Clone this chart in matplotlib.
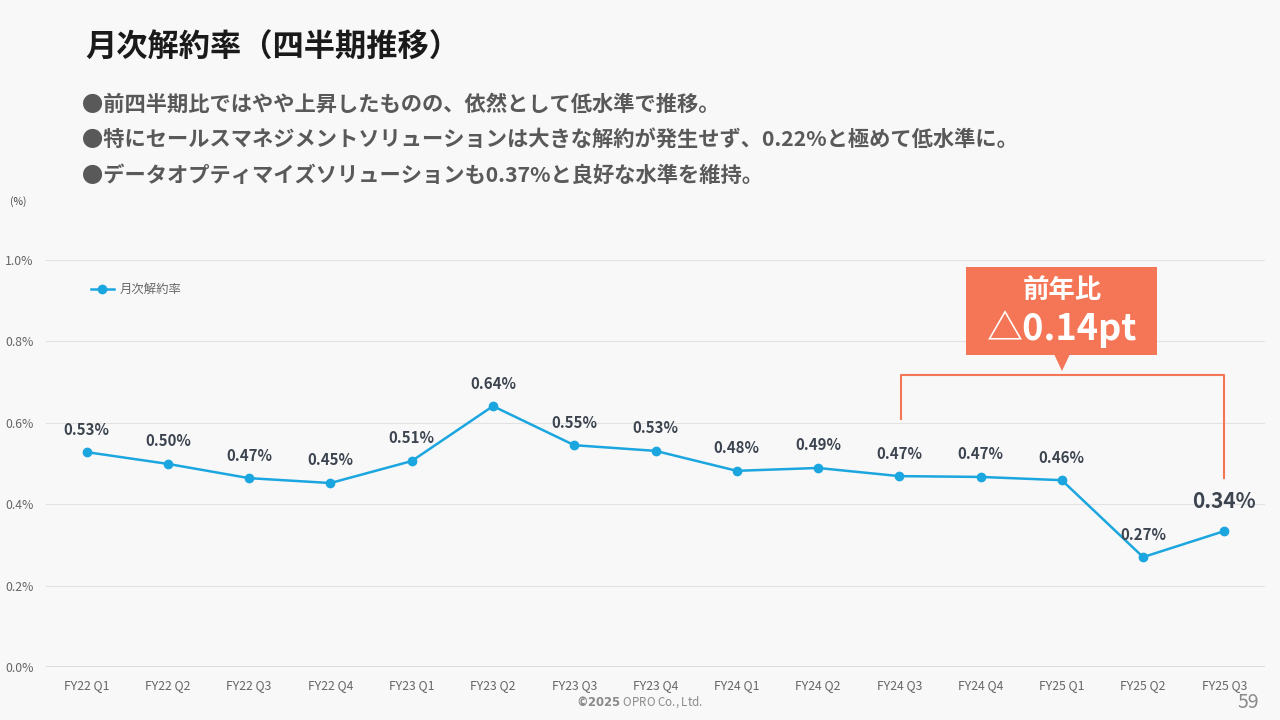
import matplotlib
matplotlib.use("Agg")
import matplotlib.pyplot as plt
from matplotlib.patches import Rectangle, Polygon
from matplotlib.lines import Line2D

plt.rcParams['font.family'] = ['Noto Sans CJK JP', 'DejaVu Sans']

categories = ["FY22 Q1", "FY22 Q2", "FY22 Q3", "FY22 Q4", "FY23 Q1", "FY23 Q2",
              "FY23 Q3", "FY23 Q4", "FY24 Q1", "FY24 Q2", "FY24 Q3", "FY24 Q4",
              "FY25 Q1", "FY25 Q2", "FY25 Q3"]
values = [0.528, 0.499, 0.464, 0.452, 0.506, 0.641, 0.545, 0.531, 0.482, 0.489,
          0.469, 0.467, 0.459, 0.270, 0.334]
labels = ["0.53%", "0.50%", "0.47%", "0.45%", "0.51%", "0.64%", "0.55%", "0.53%",
          "0.48%", "0.49%", "0.47%", "0.47%", "0.46%", "0.27%", "0.34%"]
yticks = [0.0, 0.2, 0.4, 0.6, 0.8, 1.0]
ytick_labels = ["0.0%", "0.2%", "0.4%", "0.6%", "0.8%", "1.0%"]
series_name = "月次解約率"
title = "月次解約率（四半期推移）"
bullets = ["●前四半期比ではやや上昇したものの、依然として低水準で推移。",
           "●特にセールスマネジメントソリューションは大きな解約が発生せず、0.22%と極めて低水準に。",
           "●データオプティマイズソリューションも0.37%と良好な水準を維持。"]
callout_top = "前年比"
callout_main = "△0.14pt"

BG = "#f8f8f8"
LINE = "#1ba6df"
CORAL = "#f47656"
LABEL = "#3c4450"

W, H = 1280, 720
fig = plt.figure(figsize=(12.8, 7.2), dpi=100, facecolor=BG)

def fx(px):
    return px / W

def fy(py):
    return 1 - py / H

ax = fig.add_axes([fx(46), fy(667), fx(1265) - fx(46), fy(260) - fy(667)])
ax.set_facecolor(BG)
x = list(range(len(categories)))
ax.plot(x, values, color=LINE, lw=1.8, marker='o', ms=6, label=series_name, zorder=3)
ax.set_xlim(-0.5, len(categories) - 0.5)
ax.set_ylim(0, 1.0)
ax.set_yticks(yticks)
ax.set_yticklabels(ytick_labels)
ax.set_xticks(x)
ax.set_xticklabels(categories)
ax.tick_params(axis='both', length=0, labelsize=8.8, labelcolor="#666666")
ax.tick_params(axis='x', pad=9)
ax.tick_params(axis='y', pad=9)
for s in ax.spines.values():
    s.set_visible(False)
for t in yticks[1:]:
    ax.axhline(t, color="#e2e2e2", lw=0.8, zorder=0)
ax.axhline(0, color="#d9d9d9", lw=2, zorder=1)

for i, (v, lab) in enumerate(zip(values, labels)):
    if i == len(values) - 1:
        ax.annotate(lab, (i, v), xytext=(0, 14), textcoords='offset points',
                    ha='center', va='bottom', fontsize=15, fontweight='bold', color=LABEL)
    else:
        ax.annotate(lab, (i, v), xytext=(0, 10.5), textcoords='offset points',
                    ha='center', va='bottom', fontsize=10.8, fontweight='bold', color=LABEL)

leg = ax.legend(loc='upper left', bbox_to_anchor=(0.028, 0.97), frameon=False,
                fontsize=8.9, handlelength=1.8, handletextpad=0.5, labelcolor="#666666")

# Title and bullets
fig.text(fx(85), fy(48), title, fontsize=22.5, fontweight='bold', color="#1a1a1a", va='center')
for i, b in enumerate(bullets):
    fig.text(fx(82), fy(104 + 35.5 * i), b, fontsize=15.3, fontweight='bold', color="#595959", va='center')

fig.text(fx(10), fy(202), "(%)", fontsize=7.5, color="#444444", va='center')

# Bracket
bx = [fx(901), fx(901), fx(1224), fx(1224)]
by = [fy(419), fy(375), fy(375), fy(478)]
fig.add_artist(Line2D(bx, by, color=CORAL, lw=1.5))

# Callout box
fig.add_artist(Rectangle((fx(966), fy(355)), fx(1157) - fx(966), fy(267) - fy(355),
                         facecolor=CORAL, edgecolor='none'))
fig.add_artist(Polygon([(fx(1054), fy(354)), (fx(1070), fy(354)), (fx(1062), fy(371))],
                       closed=True, facecolor=CORAL, edgecolor='none'))
fig.text(fx(1062), fy(290), callout_top, fontsize=19, fontweight='bold', color='white',
         ha='center', va='center')
fig.text(fx(1062), fy(329), callout_main, fontsize=26, fontweight='bold', color='white',
         ha='center', va='center')

# Footer
fig.text(fx(640), fy(702), r"$\bf{©2025}$ OPRO Co., Ltd.", fontsize=8.4, color="#8a8a8a",
         ha='center', va='center')
fig.text(fx(1248), fy(702), "59", fontsize=14, color="#8a8a8a", ha='center', va='center')

fig.savefig("out.png", dpi=100, facecolor=BG)
